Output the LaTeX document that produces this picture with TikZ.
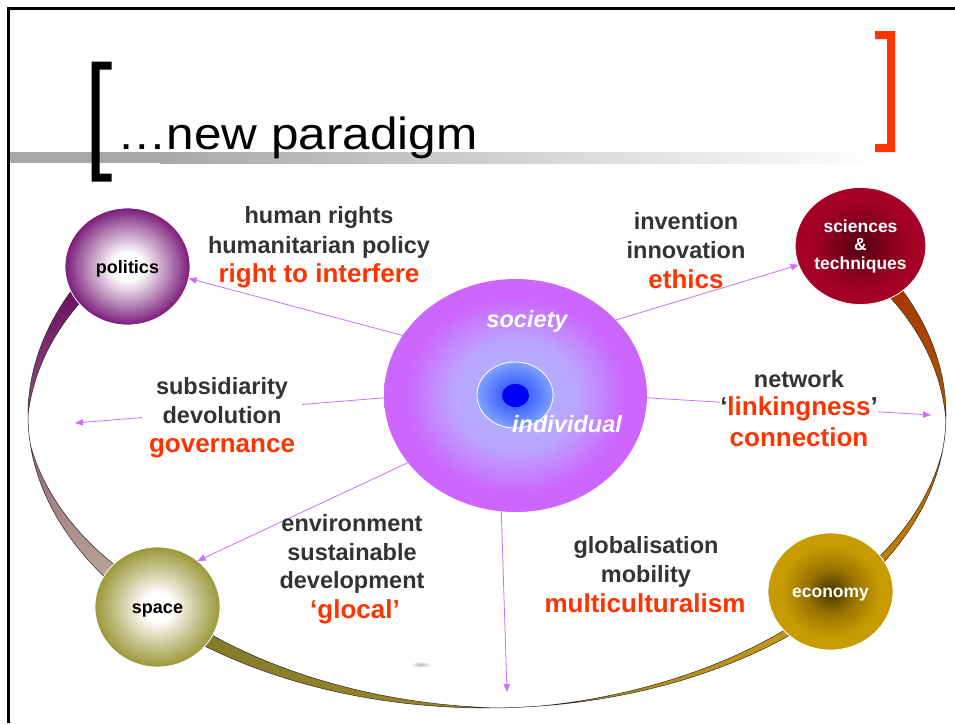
\documentclass[tikz,border=0pt]{standalone}
\usepackage{fontspec}
\setmainfont{Liberation Sans}
\usetikzlibrary{shapes.geometric,arrows.meta}
\definecolor{txt}{HTML}{333333}
\definecolor{hot}{HTML}{FF3300}
\definecolor{arr}{HTML}{CC70FF}
\definecolor{barg}{HTML}{A8A8A8}
\definecolor{polrim}{HTML}{7B1A7B}
\definecolor{polmid}{HTML}{B98AB9}
\definecolor{scirim}{HTML}{A50026}
\definecolor{scimid}{HTML}{8A0020}
\definecolor{scictr}{HTML}{520010}
\definecolor{sparim}{HTML}{9A9838}
\definecolor{spamid}{HTML}{C8C692}
\definecolor{ecorim}{HTML}{C89C00}
\definecolor{ecomid}{HTML}{9A7400}
\definecolor{ecoctr}{HTML}{473300}
\definecolor{socrim}{HTML}{CC66FF}
\definecolor{socmid}{HTML}{BBA4FF}
\definecolor{socctr}{HTML}{A8B8FF}
\definecolor{indrim}{HTML}{7FA2FF}
\definecolor{indmid}{HTML}{4468FF}
\definecolor{indctr}{HTML}{2030FF}
\definecolor{dotc}{HTML}{0000F2}
\definecolor{lefttop}{HTML}{640060}
\definecolor{leftmid}{HTML}{8E6C80}
\definecolor{leftbot}{HTML}{C4BD98}
\definecolor{righttop}{HTML}{A02A00}
\definecolor{rightbot}{HTML}{C88E00}
\definecolor{botleft}{HTML}{787730}
\definecolor{botright}{HTML}{C99A12}
\definecolor{ringline}{HTML}{2A2A2A}
\pgfdeclareradialshading{polsh}{\pgfpoint{0bp}{0bp}}{color(0bp)=(white); color(6bp)=(white); color(16bp)=(polmid); color(25bp)=(polrim); color(50bp)=(polrim)}
\pgfdeclareradialshading{spash}{\pgfpoint{0bp}{0bp}}{color(0bp)=(white); color(6bp)=(white); color(16bp)=(spamid); color(25bp)=(sparim); color(50bp)=(sparim)}
\pgfdeclareradialshading{scish}{\pgfpoint{0bp}{0bp}}{color(0bp)=(scictr); color(12bp)=(scimid); color(20bp)=(scirim); color(25bp)=(scirim); color(50bp)=(scirim)}
\pgfdeclareradialshading{ecosh}{\pgfpoint{0bp}{0bp}}{color(0bp)=(ecoctr); color(10bp)=(ecomid); color(20bp)=(ecorim); color(25bp)=(ecorim); color(50bp)=(ecorim)}
\pgfdeclareradialshading{socsh}{\pgfpoint{0bp}{0bp}}{color(0bp)=(socctr); color(12bp)=(socmid); color(21bp)=(socrim); color(25bp)=(socrim); color(50bp)=(socrim)}
\pgfdeclareradialshading{indsh}{\pgfpoint{0bp}{0bp}}{color(0bp)=(indctr); color(10bp)=(indmid); color(25bp)=(indrim); color(50bp)=(indrim)}
\tikzset{
  ball/.style={ellipse, draw=white, line width=0.8pt, inner sep=0pt, outer sep=0pt,
    minimum width=125pt, minimum height=117pt, font=\fontsize{18}{18.5}\selectfont\bfseries},
  blk/.style={anchor=base, inner sep=0pt, text=txt, font=\fontsize{23.5}{28}\selectfont\bfseries},
  hotl/.style={anchor=base, inner sep=0pt, text=hot, font=\fontsize{26}{30}\selectfont\bfseries},
  conn/.style={draw=arr, line width=0.8pt, -{Triangle[length=8pt,width=6.5pt]}},
  seg/.style={draw=ringline, line width=0.5pt},
  whitelab/.style={anchor=base, inner sep=0pt, text=white, font=\fontsize{23.5}{28}\selectfont\bfseries\itshape}
}
\begin{document}
\begin{tikzpicture}[x=1pt,y=1pt]
\useasboundingbox (0,0) rectangle (955,-723);
\fill[white] (0,0) rectangle (955,-723);
% frame
\draw[line width=2.6pt, line join=miter] (8.6,-723) -- (8.6,-8.2) -- (955,-8.2);
% title bar
\fill[barg] (10,-152) rectangle (160,-163);
\shade[left color=barg, right color=white] (160,-152) rectangle (880,-163);
% brackets
\fill[black] (91.5,-61.7) -- (111.6,-61.7) -- (111.6,-69.7) -- (99.5,-69.7) -- (99.5,-173.7) -- (111.6,-173.7) -- (111.6,-181.7) -- (91.5,-181.7) -- cycle;
\fill[hot] (875,-31) -- (895,-31) -- (895,-152) -- (875,-152) -- (875,-144) -- (887,-144) -- (887,-39) -- (875,-39) -- cycle;
\node[anchor=base west, inner sep=0pt, font=\fontsize{45}{45}\selectfont, xscale=1.1] (title) at (117,-149) {…new paradigm};
% ring segments
\shadedraw[seg, top color=lefttop, middle color=leftmid, bottom color=leftbot]
  plot[domain=148:224, samples=90, variable=\t] ({487+459*cos(\t)}, {-415+293*sin(\t)})
  -- plot[domain=224:148, samples=90, variable=\t] ({487+(459-0.6*max(abs(\t-183)-3,0))*cos(\t)}, {-415+(293-0.6*max(abs(\t-183)-3,0))*sin(\t)}) -- cycle;
\shadedraw[seg, top color=righttop, bottom color=rightbot]
  plot[domain=-42:36, samples=90, variable=\t] ({487+459*cos(\t)}, {-415+293*sin(\t)})
  -- plot[domain=36:-42, samples=90, variable=\t] ({487+(459-ifthenelse(\t>-4,0.55,0.32)*max(abs(\t+4)-3,0))*cos(\t)}, {-415+(293-ifthenelse(\t>-4,0.55,0.32)*max(abs(\t+4)-3,0))*sin(\t)}) -- cycle;
\shadedraw[seg, left color=botleft, right color=botright]
  plot[domain=214:326, samples=110, variable=\t] ({487+459*cos(\t)}, {-415+293*sin(\t)})
  -- plot[domain=326:214, samples=110, variable=\t] ({487+(459-ifthenelse(\t<274,0.34,0.21)*max(abs(\t-274)-3,0))*cos(\t)}, {-415+(293-ifthenelse(\t<274,0.34,0.21)*max(abs(\t-274)-3,0))*sin(\t)}) -- cycle;
% faint smudge
\shade[inner color=gray!55, outer color=white] (421,-664.5) ellipse (11 and 3);
% outer nodes
\node[ball, shading=polsh, text height=13pt, text depth=0pt] (pol) at (127.5,-266.5) {politics};
\node[ball, shading=scish, text=white, align=center, font=\fontsize{17.5}{18.5}\selectfont\bfseries] (sci) at (860.5,-246) {sciences\\\&\\techniques};
\node[ball, shading=spash, minimum height=120pt, text height=12pt, text depth=0pt] (spa) at (157.5,-607) {space};
\node[ball, shading=ecosh, text=white, font=\fontsize{17.5}{18.5}\selectfont\bfseries, text height=11.5pt, text depth=0pt] (eco) at (830.5,-591.5) {economy};
% centre
\node[ellipse, shading=socsh, minimum width=263pt, minimum height=233pt, inner sep=0pt, outer sep=0pt] (soc) at (515.5,-395.5) {};
\node[ellipse, shading=indsh, draw=white, line width=0.8pt, minimum width=76pt, minimum height=66pt, inner sep=0pt, outer sep=0pt] (ind) at (515,-395) {};
\node[ellipse, fill=dotc, minimum width=27pt, minimum height=23pt, inner sep=0pt] (dot) at (515.5,-395.5) {};
\node[whitelab] (soclab) at (527,-327) {society};
\node[whitelab] (indlab) at (567,-432) {individual};
% top text blocks (under arrows)
\node[blk] (h1) at (319,-223) {human rights};
\node[blk] (h2) at (319,-253) {humanitarian policy};
\node[hotl] (h3) at (319,-282) {right to interfere};
\node[blk] (v1) at (686,-229) {invention};
\node[blk] (v2) at (686,-258) {innovation};
\node[hotl] (v3) at (686,-288) {ethics};
% free ends
\coordinate (lend) at (75,-423);
\coordinate (rend) at (931,-415);
\coordinate (bend) at (507,-692);
% connectors
\draw[conn] (soc.152.8) -- (pol.-11.9);
\draw[conn] (soc.37.9) -- (sci.197.4);
\draw[conn] (soc.181.5) -- (lend);
\draw[conn] (soc.-1.5) -- (rend);
\draw[conn] (soc.212.9) -- (spa.49.4);
\draw[conn] (soc.263.9) -- (bend);
% other text blocks
\node[blk] (s1) at (222,-394) {subsidiarity};
\node[blk, fill=white, minimum width=160pt, inner ysep=4pt] (s2) at (222,-423) {devolution};
\node[hotl] (s3) at (222,-452) {governance};
\node[blk] (n1) at (799,-387) {network};
\node[hotl, fill=white, inner xsep=0pt, inner ysep=3pt] (n2) at (799,-415) {\textcolor{txt}{‘}linkingness\textcolor{txt}{’}};
\node[hotl] (n3) at (799,-446) {connection};
\node[blk] (e1) at (352,-531) {environment};
\node[blk] (e2) at (352,-560) {sustainable};
\node[blk] (e3) at (352,-588) {development};
\node[hotl] (e4) at (355,-618) {‘glocal’};
\node[blk] (g1) at (646,-553) {globalisation};
\node[blk] (g2) at (646,-582) {mobility};
\node[hotl] (g3) at (645,-612) {multiculturalism};
\end{tikzpicture}
\end{document}
